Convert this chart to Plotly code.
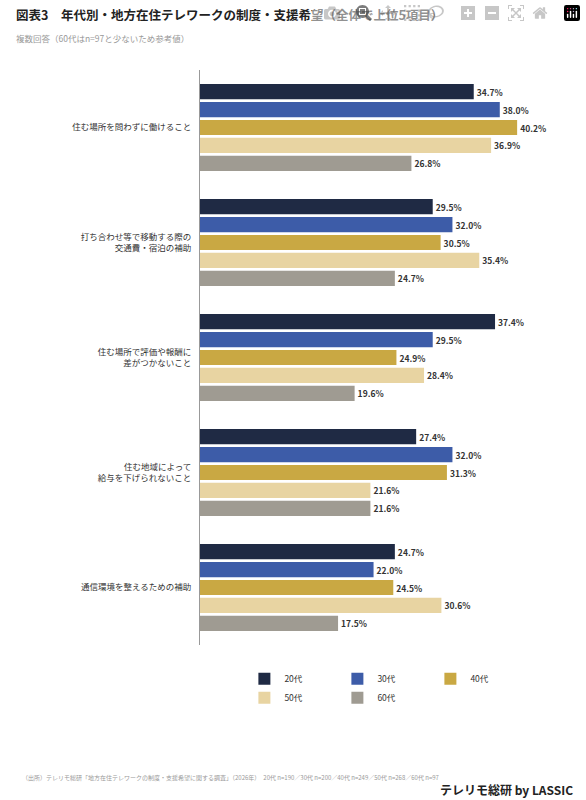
import plotly.graph_objects as go

FONT = "Noto Sans CJK JP"

categories = [
    "住む場所を問わずに働けること",
    "打ち合わせ等で移動する際の<br>交通費・宿泊の補助",
    "住む場所で評価や報酬に<br>差がつかないこと",
    "住む地域によって<br>給与を下げられないこと",
    "通信環境を整えるための補助",
]
ages = ["20代", "30代", "40代", "50代", "60代"]
values = {
    "20代": [34.7, 29.5, 37.4, 27.4, 24.7],
    "30代": [38.0, 32.0, 29.5, 32.0, 22.0],
    "40代": [40.2, 30.5, 24.9, 31.3, 24.5],
    "50代": [36.9, 35.4, 28.4, 21.6, 30.6],
    "60代": [26.8, 24.7, 19.6, 21.6, 17.5],
}
colors = ["#1f2a44", "#3d5ca8", "#c9a843", "#e8d4a2", "#9f9b92"]

fig = go.Figure()
for age, c in zip(ages, colors):
    fig.add_trace(go.Bar(
        y=categories, x=values[age], name=age, orientation="h",
        marker=dict(color=c, line=dict(width=0)),
        text=[f"<b>{v:.1f}%</b>" for v in values[age]], textposition="outside",
        textfont=dict(size=8.5, color="#333333", family=FONT),
        cliponaxis=False,
    ))

fig.update_layout(
    width=586, height=800,
    margin=dict(l=200, r=31, t=70, b=155),
    barmode="group", bargap=0.22, bargroupgap=0.15,
    plot_bgcolor="white", paper_bgcolor="white",
    font=dict(family=FONT, color="#333333"),
    xaxis=dict(range=[0, 45], visible=False),
    yaxis=dict(autorange="reversed", showline=True, linecolor="#999999", linewidth=1,
               ticks="", tickfont=dict(size=8.5, color="#333333"), ticklabelstandoff=6),
    showlegend=True,
    legend=dict(orientation="h", x=0.518, xanchor="center", y=-0.075, yanchor="middle",
                font=dict(size=8.5), traceorder="normal",
                entrywidth=48, entrywidthmode="pixels"),
)
fig.add_annotation(text="<b>図表3　年代別・地方在住テレワークの制度・支援希望（全体で上位5項目）</b>",
                   xref="paper", yref="paper", x=-0.524, y=1.097, xanchor="left", yanchor="middle",
                   showarrow=False, font=dict(size=12.5, color="#222222"))
fig.add_annotation(text="複数回答（60代はn=97と少ないため参考値）",
                   xref="paper", yref="paper", x=-0.524, y=1.056, xanchor="left", yanchor="middle",
                   showarrow=False, font=dict(size=8.5, color="#999999"))
fig.add_annotation(text="（出所）テレリモ総研「地方在住テレワークの制度・支援希望に関する調査」（2026年）　20代 n=190／30代 n=200／40代 n=249／50代 n=268／60代 n=97",
                   xref="paper", yref="paper", x=-0.507, y=-0.231, xanchor="left", yanchor="middle",
                   showarrow=False, font=dict(size=6, color="#999999"))
fig.add_annotation(text="<b>テレリモ総研 by LASSIC</b>",
                   xref="paper", yref="paper", x=1.056, y=-0.252, xanchor="right", yanchor="middle",
                   showarrow=False, font=dict(size=12, color="#222222"))

fig.write_html("out.html", post_script="document.body.style.margin='0';document.body.style.overflow='hidden';")
